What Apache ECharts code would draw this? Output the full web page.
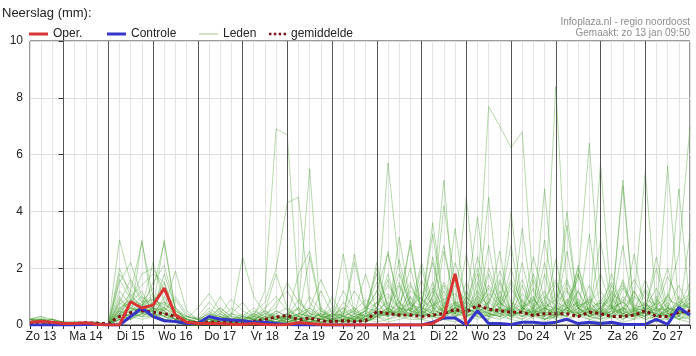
<!DOCTYPE html>
<html><head><meta charset="utf-8">
<script src="https://cdn.jsdelivr.net/npm/echarts@6/dist/echarts.min.js"></script>
<style>html,body{margin:0;padding:0;background:#fff}#c{width:696px;height:356px}</style>
</head><body><div id="c"></div>
<script>
// Day labels (ticks at noon) and y ticks
const dayLabels = ['Zo 13','Ma 14','Di 15','Wo 16','Do 17','Vr 18','Za 19','Zo 20','Ma 21','Di 22','Wo 23','Do 24','Vr 25','Za 26','Zo 27'];
const yTicks = [0,2,4,6,8,10];
// 6-hourly values, first sample Zo 13 06:00, last Ma 28 00:00
const oper = [0.1,0.12,0.1, 0.05,0.05,0.08,0.03, 0,0,0.82,0.6, 0.7,1.3,0.35,0.1, 0.05,0.05,0.05,0.03, 0.02,0.05,0.02,0, 0.02,0.08,0.05,0.02, 0,0,0,0, 0,0,0,0, 0,0.05,0.3,1.8, 0];
const controle = [0,0,0, 0,0,0.02,0.03, 0,0,0.3,0.6, 0.3,0.15,0.12,0.05, 0.05,0.3,0.2,0.18, 0.15,0.1,0.1,0.05, 0.02,0,0,0, 0,0,0,0, 0,0,0,0, 0,0.1,0.25,0.25, 0,0.5,0.05,0.05, 0.02,0.1,0.1,0.05, 0.1,0.2,0.05,0.1, 0.05,0.1,0.02,0.02, 0.02,0.2,0.02,0.62, 0.35];
const gemiddelde = [0.08,0.1,0.08, 0.05,0.05,0.08,0.06, 0.05,0.3,0.43,0.5, 0.45,0.4,0.3,0.1, 0.08,0.1,0.1,0.1, 0.08,0.12,0.2,0.28, 0.34,0.18,0.25,0.15, 0.12,0.15,0.12,0.15, 0.47,0.4,0.35,0.35, 0.3,0.35,0.4,0.55, 0.45,0.7,0.56,0.5, 0.45,0.45,0.33,0.4, 0.4,0.4,0.3,0.45, 0.4,0.3,0.3,0.35, 0.5,0.3,0.3,0.45, 0.5];
const leden = [
[0.1,0.2,0.1, 0,0,0.1,0, 0,3.0,1.5,0.8, 0.5,0.3,0.1,0, 0,0.2,0.1,0, 0,0.3,1.2,6.9, 6.7,1.0,0.2,0, 0,0.1,0.3,0.5, 1.2,2.5,0.8,0.3, 0.5,1.5,0.4,0.2, 1.0,0.5,2.0,0.8, 0.3,0.5,1.0,0.2, 0.4,1.5,0.6,0.3, 0.2,0.8,1.5,0.4, 0.3,0.6,0.2,1.0, 0.5],
[0.2,0.1,0.1, 0.1,0,0,0, 0,1.8,1.2,2.9, 1.0,0.5,0.2,0.1, 0,0.1,0.3,0.1, 0,0,0.2,0.5, 0.3,0.6,5.5,0.2, 0.1,0,0.2,0.5, 0.8,0.3,1.0,2.8, 0.5,0.2,0.8,0.4, 1.5,0.6,0.3,0.2, 0.4,2.2,0.5,0.1, 0.3,0.6,1.8,0.4, 0.2,0.4,0.9,0.3, 1.2,0.4,0.2,0.6, 1.5],
[0.1,0.1,0.2, 0,0.1,0,0, 0,1.5,2.2,1.0, 0.6,3.0,0.5,0.2, 0.1,0.3,1.0,0.4, 0.2,0.1,0.3,0.8, 1.2,0.5,0.2,0.1, 0.2,2.5,0.4,0.1, 0.3,5.7,2.0,0.6, 0.3,1.0,5.1,0.4, 0.6,0.3,0.2,1.2, 0.3,0.5,2.4,0.9, 0.2,0.7,0.4,1.0, 0.5,0.3,1.6,0.5, 0.4,0.2,1.1,0.3, 0.8],
[0.2,0.3,0.1, 0.1,0,0.1,0, 0,0.5,0.3,3.0, 0.4,0.2,0.1,0, 0,0,0.2,0.1, 0.3,0.2,0.1,0.3, 0.1,0.2,0.6,0.3, 0.2,0.1,0.3,0.1, 0.4,0.6,0.3,1.0, 0.2,0.5,4.2,1.5, 0.4,1.0,7.7,7.0, 6.25,6.8,1.2,0.4, 0.2,0.9,0.4,0.3, 0.6,1.0,0.3,0.2, 0.7,0.3,0.5,0.2, 0.4],
[0.1,0.2,0.1, 0,0.1,0,0, 0,0.8,0.5,0.6, 2.2,0.8,0.3,0.1, 0,0.2,0.5,0.2, 0.1,0.4,0.2,0.1, 0.3,0.1,0.2,0.4, 0.1,0.3,0.2,0.6, 1.5,0.4,0.8,0.3, 2.0,0.6,0.3,0.8, 0.3,1.5,0.5,0.4, 0.2,0.6,1.0,0.3, 8.4,1.2,0.6,0.3, 0.5,0.2,1.3,0.6, 0.3,0.9,0.4,0.2, 0.5],
[0.2,0.1,0, 0,0,0.1,0, 0,2.0,1.0,1.4, 1.8,1.5,0.4,0.2, 0.1,0.5,0.2,0, 0,0.2,0.1,0, 0.2,0.4,0.3,0.2, 0.1,0.2,0.6,0.3, 2.2,0.5,0.3,1.4, 0.6,0.4,1.2,0.3, 0.5,0.8,0.3,1.5, 0.4,0.2,0.6,1.2, 0.3,0.8,1.6,6.4, 1.0,0.6,0.3,0.4, 0.8,0.3,0.5,0.6, 0.2],
[0.1,0.1,0.1, 0.1,0.1,0,0, 0,0.3,1.2,0.8, 1.3,2.9,0.5,0.2, 0.1,0.2,0.1,0, 0.2,0.1,0.5,1.8, 0.6,0.2,0.1,0.3, 0.2,0.5,0.3,0.1, 0.3,1.0,0.6,2.0, 0.5,0.3,2.6,0.8, 0.4,0.3,1.8,0.5, 0.3,1.4,0.4,0.6, 0.3,0.5,0.8,0.4, 5.7,0.6,0.3,1.2, 0.5,0.4,0.8,0.3, 1.0],
[0.1,0.2,0.2, 0.1,0,0,0.1, 0,1.0,0.4,0.3, 0.6,0.4,0.2,0.1, 0.3,0.8,0.4,0.2, 0.1,0,0.2,0.4, 0.2,0.3,0.1,0.2, 0.1,0.2,0.1,0.3, 0.6,1.6,0.5,0.3, 0.8,2.2,0.6,0.4, 1.0,0.5,2.8,0.6, 0.3,0.5,0.2,1.8, 0.4,0.3,0.9,0.5, 0.3,0.6,5.1,0.4, 0.3,0.5,5.6,0.6, 0.3],
[0,0.1,0.1, 0,0,0,0, 0,0.4,0.6,0.5, 0.3,1.0,0.3,0.1, 0.1,0.1,0.2,0.6, 0.3,0.2,0.1,0.2, 0.4,0.6,0.2,0.1, 0.2,0.3,0.5,0.2, 0.3,0.6,1.5,0.4, 0.3,0.8,0.5,0.4, 2.5,0.6,0.4,0.3, 0.8,0.4,1.6,0.5, 0.3,1.2,0.4,0.6, 0.4,1.8,0.5,0.3, 0.6,0.4,1.0,2.5, 7.0],
[0.2,0.1,0, 0,0.1,0.1,0, 0,0.6,0.9,0.4, 0.5,0.6,1.9,0.5, 0.2,0.4,0.2,0.3, 2.4,1.0,0.4,0.2, 0.3,1.8,2.6,0.6, 0.2,0.4,0.3,0.2, 0.4,0.3,3.1,0.8, 0.5,1.2,0.3,0.6, 4.5,0.8,0.4,1.0, 0.5,0.3,0.7,0.4, 1.5,0.6,0.3,0.8, 0.4,1.2,0.3,0.5, 0.8,0.3,0.6,1.4, 0.5],
[0.1,0.2,0.1, 0.1,0.1,0,0, 0,0.2,0.4,0.7, 0.9,0.4,0.2,0, 0,0.1,0,0, 0,0.4,0.8,2.0, 4.3,4.5,0.8,0.3, 0.5,0.3,0.2,0.4, 0.6,1.8,0.4,0.3, 0.7,3.2,0.6,0.3, 0.5,1.2,0.6,0.4, 0.3,3.4,0.6,0.2, 0.4,0.3,2.1,0.7, 0.3,0.4,0.6,0.2, 0.5,1.0,0.3,4.8, 0.6],
[0.2,0.3,0.2, 0.1,0,0.1,0.1, 0,0.3,0.5,0.6, 1.5,2.1,0.6,0.3, 0.2,0.1,0.3,0.1, 0.2,0.3,0.2,0.1, 0.2,0.1,0.3,0.2, 1.0,0.3,2.5,0.4, 0.3,0.5,0.4,0.6, 1.0,0.4,0.3,3.4, 0.6,0.4,0.5,0.8, 2.8,0.5,0.3,0.6, 0.4,2.6,0.5,0.3, 0.6,0.3,0.4,2.5, 0.4,0.6,0.3,0.5, 0.3],
[0.1,0,0.1, 0,0,0,0, 0,0.4,0.3,0.6, 0.8,1.5,0.3,0.1, 0.1,0.3,0.6,0.3, 0.2,0.1,0.3,0.2, 0.1,0.3,0.2,1.2, 0.4,0.2,0.1,0.3, 0.5,0.4,2.3,0.7, 0.4,0.3,0.6,0.8, 0.8,3.8,0.6,0.4, 1.5,0.5,0.3,4.8, 0.6,0.4,1.2,0.3, 0.8,0.3,0.5,0.9, 5.4,0.6,0.3,0.3, 1.2],
[0.1,0.1,0, 0,0,0.1,0, 0,0.2,0.4,0.3, 0.5,0.8,0.4,0.2, 0.1,0,0.1,0, 0.1,0.2,0.1,0.1, 0.3,0.2,0.4,0.3, 0.2,0.1,0.2,0.4, 2.0,0.6,0.3,0.8, 0.3,2.4,0.4,0.6, 0.3,0.6,4.5,0.8, 0.4,0.6,0.3,0.5, 2.3,0.5,0.4,3.2, 0.5,0.3,0.6,0.4, 0.3,0.8,0.4,0.3, 3.2],
[0.2,0.1,0.1, 0,0.1,0,0, 0,0.6,0.8,1.2, 0.4,0.3,0.1,0, 0,0.1,0.2,0.1, 0.1,0.2,0.3,0.4, 0.6,0.3,2.4,0.5, 0.3,0.2,0.4,1.8, 0.5,0.3,0.5,0.4, 1.6,0.6,0.3,0.8, 0.6,0.4,0.8,2.6, 0.3,0.5,0.9,0.4, 0.6,4.0,0.6,0.3, 0.4,1.4,0.3,0.5, 0.6,0.3,0.6,0.5, 0.4],
[0.1,0.2,0.1, 0.1,0,0,0, 0,0.3,0.2,0.4, 0.6,0.5,1.0,0.4, 0.2,0.1,0.2,0.1, 0.2,0.1,0,0.1, 0.2,0.1,0.2,0.1, 0.1,0.2,0.1,0.2, 0.2,0.5,0.3,0.4, 0.3,0.4,0.2,0.6, 0.3,0.5,0.4,0.3, 0.6,0.3,0.5,0.2, 0.3,0.6,0.4,0.2, 0.3,0.5,0.2,0.4, 0.2,0.3,0.4,0.2, 0.3],
[0.2,0.2,0.1, 0,0,0,0, 0,0.5,0.8,1.8, 2.0,1.2,0.4,0.1, 0,0.2,0.4,0.2, 0.1,0.5,0.3,0.2, 0.4,0.2,0.6,0.3, 0.3,0.6,0.2,0.3, 0.4,0.3,0.6,0.5, 0.4,1.0,2.8,0.6, 0.3,0.4,0.3,0.6, 0.4,0.9,0.3,0.6, 0.5,0.3,1.8,0.4, 3.0,0.6,0.4,0.3, 0.5,0.4,0.3,0.8, 0.6],
[0.1,0.1,0.2, 0,0,0,0.1, 0,0.4,0.6,0.5, 0.7,0.8,0.6,0.2, 0.6,1.1,0.5,0.2, 0.3,0.6,0.2,0.1, 0.2,0.3,0.1,0.5, 0.3,0.1,0.4,0.3, 0.3,0.6,0.4,3.0, 0.4,0.3,0.5,0.3, 0.6,0.4,0.3,0.5, 4.0,0.6,0.4,0.3, 0.5,0.4,0.6,0.9, 0.3,0.5,2.8,0.4, 0.4,0.3,0.6,0.5, 0.4],
[0.2,0.1,0.1, 0,0.1,0,0, 0,0.8,1.6,0.9, 0.6,0.4,0.2,0.1, 0.1,0.3,0.1,0.1, 0,0.1,0.2,0.3, 0.1,0.2,0.3,0.2, 0.4,0.3,0.2,0.1, 0.3,0.4,0.3,0.6, 0.5,0.3,0.4,0.5, 0.8,0.5,0.6,0.3, 0.4,0.3,0.5,0.4, 0.3,0.6,0.3,0.5, 0.4,0.3,0.6,0.3, 0.5,0.4,0.3,0.4, 0.5],
[0.1,0.1,0.1, 0.1,0,0,0, 0,1.6,0.9,0.5, 0.4,0.3,0.2,0.3, 0.2,0.6,0.3,0.2, 0.4,0.2,0.5,0.3, 0.2,0.4,0.3,0.6, 0.3,0.4,0.6,0.2, 0.8,0.4,0.6,0.3, 0.6,0.4,0.3,0.5, 0.4,0.7,0.5,0.6, 0.5,0.4,0.6,0.3, 0.7,0.5,0.3,0.6, 0.4,0.6,0.5,0.3, 0.5,0.3,0.4,0.6, 0.3],
[0.1,0.2,0.1, 0,0.1,0.1,0, 0,0.2,0.3,0.4, 0.3,0.2,0.1,0, 0,0.1,0.1,0, 0,0.1,0,0, 0.1,0.1,0.2,0.1, 0.2,0.1,0.1,0.2, 0.1,0.2,0.3,0.2, 0.2,0.3,0.2,0.1, 0.3,0.2,0.4,0.3, 0.2,0.1,0.3,0.2, 0.4,0.2,0.3,0.2, 0.1,0.3,0.2,0.4, 0.2,0.1,0.3,0.2, 0.1],
[0.2,0.1,0.1, 0,0,0,0, 0,0.1,0.2,0.4, 0.5,0.4,0.3,0.2, 0.1,0.2,0.1,0.1, 0.2,0.1,0.2,0.1, 0.2,0.1,0.2,0.1, 0.1,0.2,0.2,0.1, 0.3,0.1,0.2,0.3, 0.2,0.1,0.2,0.3, 0.4,0.3,0.2,0.5, 0.3,0.2,0.4,0.2, 0.3,0.2,0.4,0.3, 0.2,0.3,0.1,0.2, 0.3,0.2,0.2,0.3, 0.2],
[0.1,0.1,0, 0,0,0,0, 0,0.3,0.5,0.8, 0.9,0.7,0.5,0.3, 0.2,0.3,0.1,0.1, 0.1,0.2,0.1,0.2, 0.3,0.1,0.2,0.4, 0.2,0.3,0.1,0.2, 0.4,2.6,0.6,0.5, 2.2,0.8,0.4,0.6, 0.8,2.0,0.6,0.5, 0.6,1.6,0.5,2.2, 0.5,0.8,0.4,0.6, 1.8,0.6,4.9,0.5, 0.6,2.0,0.4,0.5, 0.7],
[0.2,0.1,0.2, 0.1,0.1,0,0, 0,0.2,0.3,0.2, 0.3,0.2,0.1,0.1, 0.1,0.2,0.1,0.4, 0.8,0.3,0.2,0.1, 0.3,0.2,0.1,0.2, 0.4,0.3,2.2,0.6, 0.5,0.4,0.8,1.5, 0.6,0.5,1.4,0.4, 1.2,0.6,0.8,1.6, 0.5,0.7,0.4,0.9, 1.6,0.6,0.8,0.5, 0.6,0.9,0.5,1.2, 0.5,2.4,0.6,0.4, 0.8],
[0.1,0.2,0.1, 0,0,0.1,0.1, 0,0.5,1.0,0.7, 0.6,0.5,0.3,0.2, 0.1,0.2,0.1,0, 0.2,0.4,0.2,0.1, 0.1,0.2,0.1,0.1, 0.2,0.1,0.3,0.2, 0.4,0.5,0.3,0.6, 0.3,0.4,0.6,1.8, 0.5,0.9,0.6,0.4, 0.6,0.5,1.8,0.6, 0.4,0.6,0.3,0.5, 0.8,0.6,0.4,0.5, 1.6,0.5,0.3,0.6, 0.9],
[0.1,0.1,0.1, 0,0,0,0, 0,0.4,0.2,0.5, 0.4,0.2,0.1,0, 0.1,0.3,0.2,0.1, 0.1,0.2,0.4,0.3, 0.2,0.6,0.3,0.2, 0.4,0.2,0.3,0.5, 1.2,0.5,0.4,1.0, 0.6,3.6,0.8,0.5, 0.4,0.6,1.3,0.5, 2.0,0.6,0.4,0.8, 0.5,3.5,0.6,0.4, 0.6,0.4,1.0,0.6, 0.5,0.8,2.0,0.5, 0.4],
[0.2,0.2,0.1, 0.1,0,0,0, 0,0.6,0.4,0.3, 0.3,0.6,0.3,0.2, 0.1,0.1,0.3,0.2, 0.2,0.3,0.6,1.0, 0.5,0.3,0.2,0.4, 0.3,0.6,0.4,0.3, 0.5,0.8,0.4,0.3, 0.4,0.6,0.5,0.7, 0.6,1.8,0.4,0.3, 0.7,0.5,0.4,0.6, 0.4,0.9,0.6,0.3, 0.5,0.6,0.8,0.4, 0.6,0.5,0.7,0.3, 0.5],
[0.1,0.1,0.2, 0,0,0,0, 0,0.3,0.6,0.4, 0.3,0.4,0.2,0.1, 0.1,0.2,0.1,0.1, 0.1,0.1,0.2,0.1, 0.1,0.2,0.1,0.2, 0.2,0.1,0.3,0.2, 0.6,0.3,1.4,0.5, 0.3,0.5,0.4,0.6, 0.4,0.6,0.4,0.8, 0.5,0.4,0.5,0.4, 0.6,0.5,0.4,1.4, 0.5,0.4,0.6,0.5, 0.4,0.6,0.5,0.7, 0.6],
[0.1,0.2,0.1, 0.1,0,0,0, 0,0.5,0.3,0.6, 1.0,0.6,0.4,0.2, 0.1,0.3,0.2,0.4, 0.3,0.2,0.1,0.3, 0.2,0.3,0.5,0.3, 0.2,0.3,0.2,0.5, 0.3,0.4,0.5,0.8, 0.4,0.7,0.5,0.4, 0.6,0.4,0.8,0.5, 0.4,0.6,0.5,0.7, 0.6,0.4,0.7,0.5, 0.5,0.7,0.4,0.6, 0.7,0.5,0.6,0.4, 0.5],
[0.2,0.1,0.1, 0,0,0.1,0, 0,0.2,0.3,0.5, 0.6,0.3,0.2,0.1, 0,0.1,0.2,0.1, 0.1,0,0.1,0.2, 0.1,0.2,0.1,0.1, 0.2,0.1,0.2,0.1, 0.3,0.2,0.4,0.3, 0.5,0.3,0.2,0.4, 0.3,0.5,0.3,0.4, 0.6,0.3,0.4,0.3, 0.5,0.3,0.6,0.4, 0.3,0.5,0.4,0.3, 0.4,0.3,0.5,0.4, 0.4],
[0.1,0.1,0.1, 0,0,0,0, 0,1.2,0.7,0.4, 0.8,0.6,0.3,0.1, 0.2,0.4,0.3,0.2, 0.3,0.2,0.4,0.6, 1.5,0.8,0.4,0.2, 0.3,1.2,0.5,0.3, 0.8,1.1,0.6,0.4, 0.7,1.3,0.6,2.2, 1.0,0.6,1.4,0.8, 0.5,1.1,0.7,3.0, 0.8,0.6,1.2,0.5, 0.9,0.5,1.4,0.7, 0.6,1.3,0.5,0.8, 1.1],
[0.2,0.2,0.1, 0.1,0,0,0, 0,0.7,1.1,0.6, 0.5,1.8,0.6,0.2, 0.1,0.2,0.6,0.3, 0.2,0.1,0.2,0.3, 0.2,0.4,0.6,1.6, 0.7,0.4,1.2,0.6, 1.8,0.7,0.5,1.2, 0.9,0.6,1.5,0.7, 0.5,2.4,0.9,0.6, 1.3,0.6,0.9,0.5, 1.1,0.7,2.0,0.6, 0.8,1.5,0.6,1.0, 0.7,0.6,1.7,0.9, 0.6],
[0.1,0.1,0.1, 0,0,0,0, 0,0.9,0.6,1.0, 0.7,0.5,0.9,0.3, 0.2,0.1,0.4,0.9, 0.5,0.3,0.2,0.5, 0.3,0.9,0.4,0.3, 0.6,0.3,0.5,0.9, 0.6,1.4,0.8,0.5, 1.2,0.7,0.9,1.1, 0.6,1.0,0.7,1.9, 0.8,0.6,1.3,0.6, 0.9,1.6,0.7,0.8, 1.2,0.6,0.8,1.6, 0.9,0.7,1.0,0.6, 0.8],
[0.2,0.1,0.1, 0,0.1,0,0, 0,0.4,0.9,0.7, 1.1,0.4,0.2,0.1, 0.1,0.2,0.1,0.2, 0.1,0.3,0.5,0.2, 0.4,0.3,1.0,0.5, 0.2,0.8,0.4,0.6, 1.0,0.5,1.8,0.7, 0.6,0.9,0.5,1.4, 0.8,0.6,1.1,0.7, 1.6,0.8,0.6,1.0, 0.7,1.3,0.6,0.9, 0.6,1.1,0.8,0.5, 1.3,0.6,0.9,0.7, 1.0]
];

const START_HOUR = -18;   // Zo 13 06:00 relative to Ma 14 00:00
const STEP_HOUR = 6;
const toPts = arr => arr.map((v, i) => [START_HOUR + i * STEP_HOUR, v]);
const END_HOUR = START_HOUR + (leden[0].length - 1) * STEP_HOUR;
const FONT = '"Liberation Sans", Arial, sans-serif';
const LEDEN_COLOR = 'rgba(80,165,60,0.42)';

const ledenSeries = leden.map(m => ({
  name: 'Leden', type: 'line', data: toPts(m), symbol: 'none', z: 1,
  lineStyle: { color: LEDEN_COLOR, width: 1 },
  itemStyle: { color: LEDEN_COLOR },
  silent: true, emphasis: { disabled: true }
}));

const dayLines = dayLabels.slice(1).map((d, k) => ({ xAxis: k * 24 }));

const legendBase = (item, left) => ({
  data: [item], left: left, top: 28, padding: 0, itemWidth: 19, itemHeight: 3, itemGap: 4,
  textStyle: { fontFamily: FONT, fontSize: 12, color: '#222', padding: [0, 0, 0, 0] }, selectedMode: false
});
const DOTS = 'path://M0,0h3v3h-3z M6,0h3v3h-3z M12,0h3v3h-3z M18,0h3v3h-3z';

const option = {
  animation: false,
  backgroundColor: '#fff',
  title: [
    { text: 'Neerslag (mm):', left: 2, top: 7, padding: 0, textStyle: { fontFamily: FONT, fontSize: 13, fontWeight: 'normal', color: '#222' } }
  ],
  graphic: [
    { type: 'text', x: 690, y: 17, silent: true,
      style: { text: 'Infoplaza.nl - regio noordoost\nGemaakt: zo 13 jan 09:50', align: 'right', verticalAlign: 'top',
        font: '10px "Liberation Sans", Arial, sans-serif', fill: '#8c8c8c', lineHeight: 11 } }
  ],
  legend: [
    legendBase({ name: 'Oper.', icon: 'rect', itemStyle: { color: '#d83535' } }, 29),
    legendBase({ name: 'Controle', icon: 'rect', itemStyle: { color: '#3535c8' } }, 107),
    Object.assign(legendBase({ name: 'Leden', icon: 'rect', itemStyle: { color: '#cfe2c3' } }, 199), { itemHeight: 2 }),
    Object.assign(legendBase({ name: 'gemiddelde', icon: DOTS, itemStyle: { color: '#7a1010' } }, 269), { itemWidth: 17 })
  ],
  grid: { left: 30, right: 6, top: 41, bottom: 31, show: true, borderColor: '#333', borderWidth: 1, backgroundColor: 'transparent' },
  xAxis: {
    type: 'value', min: START_HOUR, max: END_HOUR, interval: STEP_HOUR,
    axisLine: { show: true, lineStyle: { color: '#333' } },
    axisTick: { show: true, length: 4, lineStyle: { color: '#333' } },
    splitLine: { show: true, lineStyle: { color: '#e3e3e3', width: 1 } },
    axisLabel: {
      fontFamily: FONT, fontSize: 12, color: '#222', margin: 6, showMinLabel: true, showMaxLabel: true,
      formatter: v => (((v % 24) + 24) % 24 === 12) ? (dayLabels[Math.round((v - 12) / 24) + 1] || '') : ''
    }
  },
  yAxis: {
    type: 'value', min: yTicks[0], max: yTicks[yTicks.length - 1], interval: yTicks[1] - yTicks[0],
    axisLine: { show: true, lineStyle: { color: '#333' } },
    axisTick: { show: true, length: 5, lineStyle: { color: '#333' } },
    splitLine: { show: true, lineStyle: { color: '#dedede' } },
    axisLabel: { fontFamily: FONT, fontSize: 12, color: '#222', margin: 7 }
  },
  series: ledenSeries.concat([
    { name: 'gemiddelde', type: 'line', data: toPts(gemiddelde), symbol: 'none', z: 3,
      lineStyle: { color: '#7a1010', width: 3, type: [3, 3] }, itemStyle: { color: '#7a1010' },
      markLine: { silent: true, symbol: 'none', label: { show: false }, animation: false,
        lineStyle: { color: '#555', width: 1, type: 'solid' }, data: dayLines } },
    { name: 'Controle', type: 'line', data: toPts(controle), symbol: 'none', z: 4,
      lineStyle: { color: '#3535c8', width: 3 }, itemStyle: { color: '#3535c8' } },
    { name: 'Oper.', type: 'line', data: toPts(oper), symbol: 'none', z: 5,
      lineStyle: { color: '#d83535', width: 3 }, itemStyle: { color: '#d83535' } }
  ])
};
const chart = echarts.init(document.getElementById('c'), null, { renderer: 'canvas' });
chart.setOption(option);
</script></body></html>
